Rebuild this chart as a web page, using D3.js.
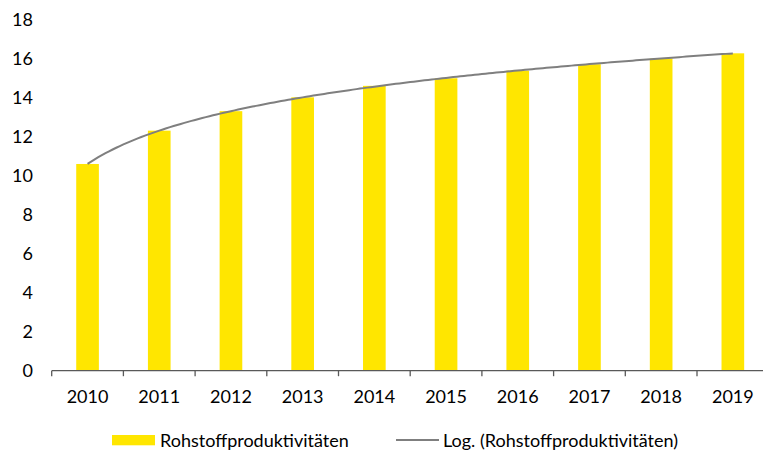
<!DOCTYPE html>
<html>
<head>
<meta charset="utf-8">
<script src="https://cdn.jsdelivr.net/npm/d3@7"></script>
<style>
  html, body { margin: 0; padding: 0; background: #fff; }
  svg { display: block; }
  text { font-family: "Lato", "Open Sans", sans-serif; fill: #000; }
</style>
</head>
<body>
<svg id="chart" width="763" height="452"></svg>
<script>
// ---- data ----
const years = ["2010","2011","2012","2013","2014","2015","2016","2017","2018","2019"];
const values = [10.61, 12.32, 13.32, 14.03, 14.62, 15.01, 15.40, 15.73, 16.02, 16.29];
const yTicks = [0, 2, 4, 6, 8, 10, 12, 14, 16, 18];
const seriesName = "Rohstoffproduktivitäten";
const trendName = "Log. (Rohstoffproduktivitäten)";

const svg = d3.select("#chart");
const fontSize = 18;

const x = d3.scaleBand().domain(years).range([51.7, 768.7]).paddingInner(0.684).paddingOuter(0.342);
const y = d3.scaleLinear().domain([0, 18]).range([370.7, 20]);

// bars
svg.append("g").selectAll("rect").data(years).join("rect")
  .attr("x", d => x(d))
  .attr("y", (d, i) => y(values[i]))
  .attr("width", x.bandwidth())
  .attr("height", (d, i) => y(0) - y(values[i]))
  .attr("fill", "#FFE600");

// logarithmic trendline (least squares fit y = a ln(n) + b on the bar values, n = 1..N)
const n = values.length;
const lx = values.map((v, i) => Math.log(i + 1));
const mx = d3.mean(lx), my = d3.mean(values);
const a = d3.sum(lx.map((l, i) => (l - mx) * (values[i] - my))) / d3.sum(lx.map(l => (l - mx) * (l - mx)));
const b = my - a * mx;
const xi = d3.scaleLinear().domain([1, n]).range([x(years[0]) + x.bandwidth() / 2, x(years[n - 1]) + x.bandwidth() / 2]);
const samples = d3.range(1, n + 0.0001, 0.05);
svg.append("path")
  .attr("d", d3.line().x(t => xi(t)).y(t => y(a * Math.log(t) + b))(samples))
  .attr("fill", "none")
  .attr("stroke", "#7F7F7F")
  .attr("stroke-width", 2);

// x axis
const xAxis = svg.append("g").attr("transform", `translate(0,${y(0)})`);
xAxis.append("line").attr("x1", 51.7).attr("x2", 768.7).attr("stroke", "#595959").attr("stroke-width", 1.3);
const step = x.step();
xAxis.selectAll("line.tick").data(d3.range(years.length + 1)).join("line")
  .attr("class", "tick")
  .attr("x1", i => 51.7 + i * step).attr("x2", i => 51.7 + i * step)
  .attr("y1", 0).attr("y2", 5.5)
  .attr("stroke", "#595959").attr("stroke-width", 1.3);
xAxis.selectAll("text").data(years).join("text")
  .attr("x", d => x(d) + x.bandwidth() / 2)
  .attr("y", 32.5)
  .attr("text-anchor", "middle")
  .attr("font-size", fontSize)
  .text(d => d);

// y axis labels
svg.append("g").selectAll("text").data(yTicks).join("text")
  .attr("x", 33)
  .attr("y", d => y(d))
  .attr("dy", "0.35em")
  .attr("text-anchor", "end")
  .attr("font-size", fontSize)
  .text(d => d);

// legend
const leg = svg.append("g");
leg.append("rect").attr("x", 112).attr("y", 435).attr("width", 43).attr("height", 10.3).attr("fill", "#FFE600");
leg.append("text").attr("x", 160).attr("y", 446.5).attr("font-size", fontSize).text(seriesName);
leg.append("line").attr("x1", 396).attr("x2", 439).attr("y1", 440).attr("y2", 440)
  .attr("stroke", "#7F7F7F").attr("stroke-width", 2);
leg.append("text").attr("x", 443).attr("y", 446.5).attr("font-size", fontSize).text(trendName);
</script>
</body>
</html>
